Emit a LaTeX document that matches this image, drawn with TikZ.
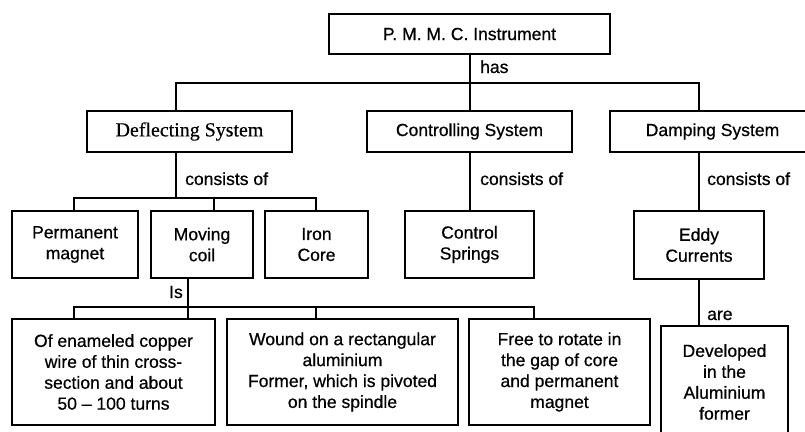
\documentclass[tikz,border=0pt]{standalone}
\usepackage{fontspec}
\setmainfont[FakeBold=0.6]{Liberation Sans}
\newfontfamily\chartserif[FakeBold=0.4]{Liberation Serif}
\newcommand\chartfont{\fontsize{17.6}{21}\selectfont}
\usetikzlibrary{positioning,calc}

\begin{document}
\begin{tikzpicture}[x=1bp,y=-1bp,
  box/.style={draw, line width=2.2bp, inner sep=2bp, align=center, font=\chartfont},
  link/.style={line width=2bp},
  lbl/.style={inner sep=0pt, font=\chartfont}]

\useasboundingbox (0,0) rectangle (805,431);

% ======================================================================
% LEVEL 0 : INSTRUMENT
% ======================================================================
\node[box, minimum width=281bp, minimum height=40bp] (pmmc) at (469.5,34) {P. M. M. C. Instrument};

% ======================================================================
% LEVEL 1 : THE THREE SYSTEMS
% ======================================================================
\node[box, minimum width=205bp, minimum height=41bp, font=\chartserif\fontsize{20}{24}\selectfont]
  (defl) at (189.5,131.5) {Deflecting System};
\node[box, minimum width=205bp, minimum height=41bp] (ctrl) at (469.5,131.5) {Controlling System};
\node[box, minimum width=205bp, minimum height=41bp] (damp) at (712.5,131.5) {Damping System};

% bus below the instrument
\coordinate (busA)  at (469.5,83);
\coordinate (busAl) at (176,83);
\coordinate (busAr) at (699,83);
\draw[link] (pmmc.south) -- (busA) -- (ctrl.north);
\draw[link] (defl.north -| busAl) -- (busAl) -- (busAr) -- (damp.north -| busAr);
\node[lbl, anchor=base west] (has) at (480,73) {has};

% ======================================================================
% LEVEL 2 : PARTS
% ======================================================================
\node[box, minimum width=126bp, minimum height=67bp] (perm) at (75,244.5) {Permanent\\magnet};
\node[box, minimum width=102bp, minimum height=67bp] (coil) at (202,244.5) {Moving\\coil};
\node[box, minimum width=103bp, minimum height=67bp] (iron) at (316.5,244.5) {Iron\\Core};
\node[box, minimum width=129bp, minimum height=67bp] (springs) at (469.5,244.5) {Control\\Springs};
\node[box, minimum width=130bp, minimum height=68bp] (eddy) at (699,245) {Eddy\\Currents};

% deflecting system -> its three parts
\coordinate (busB)  at (176,198);
\coordinate (busBl) at (74,198);
\coordinate (busBm) at (214,198);
\coordinate (busBr) at (316,198);
\draw[link] (defl.south -| busB) -- (busB);
\draw[link] (perm.north -| busBl) -- (busBl) -- (busBr) -- (iron.north -| busBr);
\draw[link] (busBm) -- (coil.north -| busBm);
\node[lbl, anchor=base west] (consA) at (185,185) {consists of};

% controlling + damping
\draw[link] (ctrl.south) -- (springs.north);
\node[lbl, anchor=base west] (consB) at (480,185) {consists of};
\draw[link] (damp.south -| eddy.north) -- (eddy.north);
\node[lbl, anchor=base west] (consC) at (707,185) {consists of};

% ======================================================================
% LEVEL 3 : DETAILS
% ======================================================================
\node[box, minimum width=203bp, minimum height=106bp] (wire) at (113.5,372)
  {Of enameled copper\\wire of thin cross-\\section and about\\50 -- 100 turns};
\node[box, minimum width=231bp, minimum height=106bp] (wound) at (342.5,372)
  {Wound on a rectangular\\aluminium\\Former, which is pivoted\\on the spindle};
\node[box, minimum width=181bp, minimum height=106bp] (free) at (559.5,372)
  {Free to rotate in\\the gap of core\\and permanent\\magnet};
\node[box, minimum width=127bp, minimum height=112bp] (devel) at (724.5,382)
  {Developed\\in the\\Aluminium\\former};

% moving coil -> details
\coordinate (busC)  at (188,307);
\coordinate (busCl) at (74,307);
\coordinate (busCm) at (316,307);
\coordinate (busCr) at (534,307);
\draw[link] (coil.south -| busC) -- (busC) -- (wire.north -| busC);
\draw[link] (wire.north -| busCl) -- (busCl) -- (busCr) -- (free.north -| busCr);
\draw[link] (busCm) -- (wound.north -| busCm);
\node[lbl, anchor=base east] (is) at (183,298) {Is};

% eddy currents -> developed
\draw[link] (eddy.south) -- (eddy.south |- devel.north);
\node[lbl, anchor=base west] (are) at (707,320) {are};

\end{tikzpicture}
\end{document}
